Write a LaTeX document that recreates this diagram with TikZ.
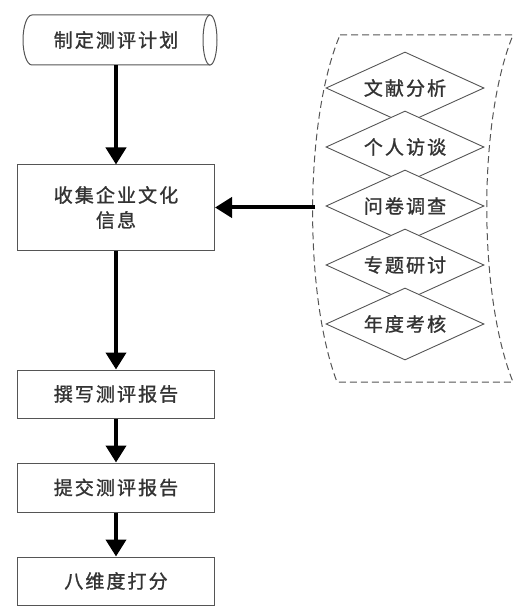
\documentclass[tikz,border=0pt]{standalone}
\usepackage{fontspec}
\setmainfont{Noto Sans CJK SC}[LetterSpace=11,FakeBold=1.2]
\usetikzlibrary{shapes.geometric,arrows.meta}
\definecolor{txtgray}{HTML}{333333}
\definecolor{linegray}{HTML}{555555}
\begin{document}
\begin{tikzpicture}[x=1pt,y=-1pt,
  lbl/.style={text=txtgray,font=\fontsize{19}{25}\selectfont,align=center,inner sep=0pt},
  stepbox/.style={lbl,draw=linegray,line width=1pt,fill=white,minimum width=197pt},
  dia/.style={lbl,diamond,shape aspect=2.2,draw=linegray,line width=0.9pt,fill=white,minimum width=158pt,minimum height=72pt},
  flow/.style={line width=4pt,draw=black,-{Triangle[length=17pt,width=20pt]}},
  cyl/.style={draw=linegray,line width=1pt},
  grp/.style={draw=linegray,line width=1pt,dash pattern=on 7pt off 4pt}
]
\useasboundingbox (0,0) rectangle (525,612);
% cylinder
\fill[white] (210,15) -- (32,15) arc[start angle=270,end angle=90,x radius=9,y radius=25] -- (210,65) -- cycle;
\draw[cyl] (210,15) -- (32,15) arc[start angle=270,end angle=90,x radius=9,y radius=25] -- (210,65);
\draw[cyl,fill=white] (210,40) ellipse[x radius=7,y radius=25];
\node[lbl,minimum width=180pt,minimum height=50pt] (plan) at (116,40) {制定测评计划};
% boxes
\node[stepbox,minimum height=85pt] (collect) at (116,207.5) {收集企业文化\\信息};
\node[stepbox,minimum height=48pt] (write) at (116,394) {撰写测评报告};
\node[stepbox,minimum height=49pt] (submit) at (116,487.5) {提交测评报告};
\node[stepbox,minimum height=48pt] (score) at (116,581) {八维度打分};
% dashed group
\draw[grp] (340,35) -- (513,35) .. controls (478,120) and (478,295) .. (513,382) -- (337,382) .. controls (304,295) and (304,120) .. (340,35) -- cycle;
% diamonds
\node[dia] (d1) at (405,88) {文献分析};
\node[dia] (d2) at (405,147) {个人访谈};
\node[dia] (d3) at (405,206) {问卷调查};
\node[dia] (d4) at (405,265) {专题研讨};
\node[dia] (d5) at (405,324) {年度考核};
\coordinate (src) at (315,207.5);
% arrows
\draw[flow] (plan.south) -- (collect.north);
\draw[flow] (collect.south) -- (write.north);
\draw[flow] (write.south) -- (submit.north);
\draw[flow] (submit.south) -- (score.north);
\draw[flow] (src) -- (collect.east);
\end{tikzpicture}
\end{document}
